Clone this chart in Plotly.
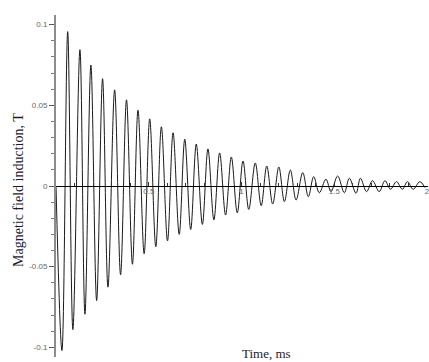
import plotly.graph_objects as go

# Extrema of the damped oscillation (time in ms, field in T)
time_ms = [0.000, 0.032, 0.063, 0.091, 0.129, 0.156, 0.188, 0.219, 0.251, 0.280,
           0.316, 0.348, 0.380, 0.412, 0.442, 0.475, 0.505, 0.538, 0.568, 0.601,
           0.631, 0.664, 0.694, 0.726, 0.756, 0.789, 0.819, 0.851, 0.882, 0.914,
           0.945, 0.977, 1.008, 1.039, 1.074, 1.106, 1.136, 1.168, 1.201, 1.231,
           1.263, 1.294, 1.330, 1.360, 1.389, 1.419, 1.455, 1.482, 1.518, 1.554,
           1.581, 1.617, 1.641, 1.674, 1.706, 1.742, 1.773, 1.803, 1.835, 1.867,
           1.894, 1.925, 1.961, 1.989]
field_T = [0.0, -0.102, 0.0957, -0.089, 0.0845, -0.0795, 0.075, -0.071, 0.0665, -0.0627,
           0.0596, -0.055, 0.0534, -0.0485, 0.047, -0.042, 0.0416, -0.0377, 0.0367, -0.034,
           0.033, -0.030, 0.029, -0.027, 0.026, -0.0238, 0.023, -0.021, 0.0205, -0.018,
           0.018, -0.0166, 0.0155, -0.0145, 0.0143, -0.0122, 0.0124, -0.0112, 0.0118, -0.0097,
           0.0099, -0.0087, 0.0083, -0.0066, 0.0058, -0.0042, 0.0042, -0.0035, 0.0062, -0.0042,
           0.0048, -0.0045, 0.0048, -0.0035, 0.0033, -0.0035, 0.0033, -0.002, 0.0027, -0.002,
           0.0027, -0.002, 0.0027, -0.001]

y_tickvals = [0.1, 0.05, 0, -0.05, -0.1]
y_ticktext = ["0.1", "0.05", "0", "-0.05", "-0.1"]
x_tickvals = [0.5, 1, 1.5, 2]
x_ticktext = ["0.5", "1", "1.5", "2"]

x_title = "Time, ms"
y_title = "Magnetic field induction, T"

fig = go.Figure()
fig.add_trace(go.Scatter(
    x=time_ms, y=field_T, mode="lines",
    line=dict(color="#1a1a1a", width=1, shape="spline", smoothing=1.0),
    showlegend=False, hoverinfo="skip",
))

tick_font = dict(family="Liberation Sans, Arial, sans-serif", size=8, color="#666666")

fig.update_layout(
    width=429, height=362,
    margin=dict(l=56, r=1, t=15, b=5),
    paper_bgcolor="white", plot_bgcolor="white",
    xaxis=dict(
        range=[0, 2.005], anchor="free", position=0.5, automargin=False,
        showline=True, linecolor="black", linewidth=1,
        showgrid=False, zeroline=False,
        tickmode="array", tickvals=x_tickvals, ticktext=x_ticktext,
        ticks="inside", ticklen=4, tickcolor="#333333",
        minor=dict(dtick=0.1, ticks="inside", ticklen=3, tickcolor="#333333"),
        tickfont=tick_font, ticklabeloverflow="allow", ticklabelstandoff=-3,
    ),
    yaxis=dict(
        range=[-0.106, 0.106], automargin=False,
        showline=True, linecolor="#8c8c8c", linewidth=2,
        showgrid=False, zeroline=False,
        tickmode="array", tickvals=y_tickvals, ticktext=y_ticktext,
        ticks="outside", ticklen=5, tickcolor="#555555",
        minor=dict(dtick=0.01, ticks="outside", ticklen=3, tickcolor="#777777"),
        tickfont=tick_font,
    ),
    annotations=[
        dict(text=x_title, xref="paper", yref="paper", x=(266 - 56) / 372, y=(357 - 353) / 342,
             xanchor="center", yanchor="middle", showarrow=False,
             font=dict(family="Liberation Serif, Times New Roman, serif", size=13, color="#1a1a33")),
        dict(text=y_title, xref="paper", yref="paper", x=(18 - 56) / 372, y=(357 - 190) / 342,
             xanchor="center", yanchor="middle", showarrow=False, textangle=-90,
             font=dict(family="Liberation Serif, Times New Roman, serif", size=14, color="#1a1a33")),
    ],
)

fig.write_html(
    "out.html",
    config={"displayModeBar": False},
    post_script="document.body.style.margin='0px'; document.body.style.overflow='hidden';",
)
